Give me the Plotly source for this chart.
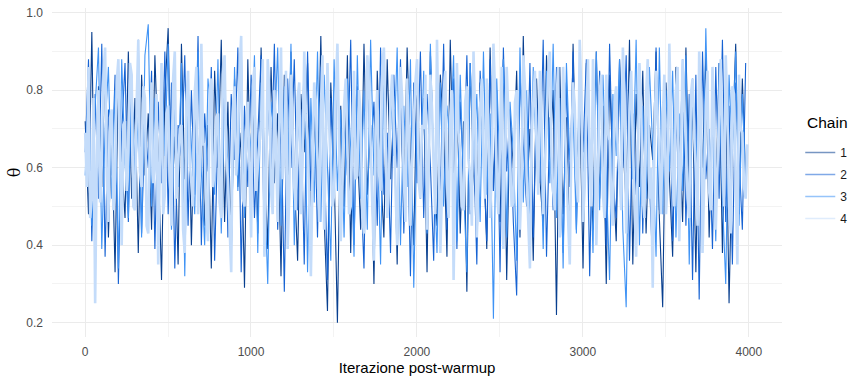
import plotly.graph_objects as go

iterations = list(range(1, 4001, 20))
iterations_c4 = list(range(1, 4001, 10))

chain1 = [
    0.72, 0.48, 0.95, 0.36, 0.81, 0.55, 0.88, 0.42, 0.70, 0.33, 0.86, 0.61, 0.47, 0.90, 0.52, 0.78, 0.38, 0.84, 0.58, 0.74,
    0.44, 0.89, 0.63, 0.31, 0.79, 0.96, 0.50, 0.68, 0.35, 0.92, 0.57, 0.82, 0.40, 0.76, 0.53, 0.87, 0.45, 0.71, 0.34, 0.85,
    0.60, 0.93, 0.46, 0.77, 0.37, 0.83, 0.55, 0.69, 0.29, 0.88, 0.51, 0.80, 0.43, 0.91, 0.62, 0.39, 0.86, 0.56, 0.74, 0.32,
    0.84, 0.49, 0.90, 0.58, 0.36, 0.79, 0.64, 0.87, 0.41, 0.73, 0.54, 0.94, 0.47, 0.23, 0.82, 0.59, 0.20, 0.76, 0.50, 0.89,
    0.38, 0.81, 0.66, 0.44, 0.92, 0.53, 0.71, 0.30, 0.85, 0.60, 0.42, 0.88, 0.57, 0.75, 0.35, 0.83, 0.48, 0.91, 0.63, 0.40,
    0.86, 0.52, 0.78, 0.33, 0.90, 0.61, 0.45, 0.84, 0.69, 0.37, 0.93, 0.55, 0.80, 0.43, 0.72, 0.28, 0.87, 0.58, 0.49, 0.82,
    0.65, 0.39, 0.91, 0.54, 0.77, 0.46, 0.88, 0.31, 0.74, 0.60, 0.85, 0.42, 0.94, 0.51, 0.70, 0.36, 0.83, 0.57, 0.45, 0.89,
    0.62, 0.80, 0.22, 0.86, 0.48, 0.73, 0.39, 0.92, 0.56, 0.78, 0.34, 0.87, 0.64, 0.44, 0.90, 0.52, 0.76, 0.30, 0.84, 0.59,
    0.41, 0.88, 0.67, 0.50, 0.93, 0.35, 0.79, 0.55, 0.85, 0.43, 0.71, 0.62, 0.90, 0.47, 0.24, 0.82, 0.58, 0.37, 0.86, 0.69,
    0.46, 0.91, 0.53, 0.77, 0.33, 0.84, 0.60, 0.89, 0.42, 0.75, 0.51, 0.87, 0.38, 0.80, 0.25, 0.66, 0.92, 0.48, 0.83, 0.57,
]

chain2 = [
    0.64, 0.88, 0.41, 0.79, 0.52, 0.92, 0.37, 0.75, 0.58, 0.84, 0.30, 0.69, 0.87, 0.46, 0.81, 0.55, 0.93, 0.43, 0.72, 0.60,
    0.85, 0.39, 0.77, 0.56, 0.90, 0.48, 0.82, 0.34, 0.71, 0.63, 0.89, 0.45, 0.80, 0.53, 0.94, 0.40, 0.74, 0.59, 0.86, 0.36,
    0.70, 0.51, 0.87, 0.42, 0.79, 0.62, 0.91, 0.33, 0.76, 0.55, 0.84, 0.47, 0.68, 0.89, 0.38, 0.81, 0.57, 0.92, 0.44, 0.73,
    0.28, 0.83, 0.60, 0.88, 0.49, 0.75, 0.35, 0.90, 0.54, 0.80, 0.42, 0.86, 0.65, 0.31, 0.78, 0.52, 0.89, 0.46, 0.72, 0.58,
    0.93, 0.40, 0.81, 0.57, 0.34, 0.87, 0.63, 0.77, 0.45, 0.91, 0.53, 0.69, 0.38, 0.84, 0.60, 0.88, 0.43, 0.74, 0.32, 0.82,
    0.56, 0.90, 0.47, 0.79, 0.61, 0.36, 0.86, 0.52, 0.92, 0.44, 0.71, 0.83, 0.39, 0.77, 0.58, 0.89, 0.48, 0.67, 0.35, 0.85,
    0.62, 0.41, 0.88, 0.54, 0.80, 0.33, 0.91, 0.59, 0.75, 0.46, 0.27, 0.84, 0.66, 0.50, 0.87, 0.42, 0.78, 0.56, 0.93, 0.37,
    0.73, 0.49, 0.86, 0.61, 0.38, 0.82, 0.55, 0.90, 0.44, 0.76, 0.64, 0.88, 0.32, 0.79, 0.51, 0.85, 0.68, 0.40, 0.92, 0.57,
    0.47, 0.83, 0.60, 0.89, 0.36, 0.74, 0.53, 0.87, 0.43, 0.80, 0.58, 0.34, 0.91, 0.49, 0.77, 0.62, 0.86, 0.41, 0.72, 0.55,
    0.88, 0.45, 0.79, 0.31, 0.84, 0.26, 0.90, 0.57, 0.70, 0.39, 0.86, 0.52, 0.93, 0.46, 0.76, 0.35, 0.82, 0.61, 0.44, 0.87,
]

chain3 = [
    0.58, 0.83, 0.45, 0.76, 0.91, 0.39, 0.70, 0.86, 0.52, 0.80, 0.34, 0.88, 0.61, 0.47, 0.84, 0.56, 0.73, 0.42, 0.89, 0.97,
    0.50, 0.78, 0.37, 0.85, 0.63, 0.92, 0.44, 0.75, 0.55, 0.87, 0.32, 0.81, 0.66, 0.48, 0.90, 0.59, 0.40, 0.83, 0.71, 0.53,
    0.88, 0.43, 0.79, 0.61, 0.35, 0.86, 0.54, 0.93, 0.47, 0.74, 0.64, 0.89, 0.38, 0.82, 0.57, 0.30, 0.77, 0.68, 0.91, 0.45,
    0.81, 0.56, 0.92, 0.40, 0.73, 0.62, 0.87, 0.33, 0.78, 0.51, 0.90, 0.46, 0.84, 0.60, 0.36, 0.88, 0.54, 0.75, 0.42, 0.83,
    0.65, 0.37, 0.89, 0.52, 0.80, 0.44, 0.93, 0.58, 0.71, 0.35, 0.86, 0.49, 0.79, 0.63, 0.91, 0.40, 0.76, 0.55, 0.88, 0.29,
    0.72, 0.57, 0.85, 0.43, 0.92, 0.61, 0.38, 0.82, 0.50, 0.76, 0.66, 0.89, 0.41, 0.84, 0.55, 0.33, 0.87, 0.62, 0.79, 0.46,
    0.90, 0.53, 0.74, 0.21, 0.83, 0.59, 0.88, 0.42, 0.77, 0.64, 0.36, 0.91, 0.51, 0.80, 0.45, 0.86, 0.60, 0.73, 0.39, 0.85,
    0.56, 0.92, 0.47, 0.78, 0.34, 0.87, 0.62, 0.75, 0.43, 0.89, 0.55, 0.81, 0.67, 0.38, 0.90, 0.49, 0.84, 0.58, 0.31, 0.79,
    0.63, 0.88, 0.44, 0.24, 0.82, 0.57, 0.93, 0.40, 0.76, 0.52, 0.86, 0.65, 0.37, 0.91, 0.48, 0.80, 0.59, 0.85, 0.42, 0.74,
    0.54, 0.89, 0.35, 0.83, 0.61, 0.77, 0.46, 0.96, 0.58, 0.72, 0.41, 0.87, 0.52, 0.30, 0.84, 0.63, 0.90, 0.45, 0.79, 0.56,
]

chain4 = [
    0.69, 0.55, 0.86, 0.47, 0.52, 0.78, 0.25, 0.63, 0.80, 0.51, 0.61, 0.84, 0.91, 0.58, 0.46, 0.73, 0.75, 0.49, 0.57, 0.82,
    0.88, 0.60, 0.40, 0.71, 0.72, 0.54, 0.64, 0.87, 0.84, 0.50, 0.49, 0.76, 0.93, 0.59, 0.55, 0.81, 0.78, 0.45, 0.43, 0.68,
    0.82, 0.56, 0.60, 0.79, 0.35, 0.62, 0.87, 0.48, 0.53, 0.74, 0.76, 0.58, 0.45, 0.83, 0.90, 0.52, 0.62, 0.70, 0.71, 0.44,
    0.38, 0.77, 0.85, 0.61, 0.56, 0.50, 0.79, 0.86, 0.48, 0.57, 0.92, 0.66, 0.66, 0.47, 0.41, 0.80, 0.83, 0.55, 0.59, 0.73,
    0.74, 0.51, 0.47, 0.84, 0.89, 0.63, 0.57, 0.46, 0.33, 0.75, 0.81, 0.58, 0.64, 0.85, 0.94, 0.52, 0.50, 0.69, 0.77, 0.60,
    0.42, 0.81, 0.86, 0.54, 0.60, 0.67, 0.72, 0.88, 0.37, 0.56, 0.88, 0.79, 0.54, 0.48, 0.80, 0.65, 0.46, 0.72, 0.91, 0.57,
    0.63, 0.85, 0.39, 0.53, 0.84, 0.70, 0.55, 0.49, 0.78, 0.82, 0.48, 0.61, 0.90, 0.74, 0.67, 0.52, 0.32, 0.58, 0.82, 0.77,
    0.59, 0.46, 0.75, 0.89, 0.44, 0.62, 0.87, 0.71, 0.61, 0.50, 0.53, 0.79, 0.92, 0.66, 0.41, 0.55, 0.76, 0.83, 0.65, 0.48,
    0.50, 0.72, 0.85, 0.57, 0.58, 0.80, 0.73, 0.47, 0.43, 0.64, 0.89, 0.81, 0.62, 0.51, 0.36, 0.70, 0.80, 0.59, 0.54, 0.86,
    0.91, 0.68, 0.47, 0.55, 0.77, 0.84, 0.68, 0.49, 0.40, 0.63, 0.86, 0.78, 0.57, 0.46, 0.83, 0.70, 0.45, 0.61, 0.74, 0.82,
    0.88, 0.56, 0.52, 0.71, 0.70, 0.84, 0.44, 0.59, 0.84, 0.75, 0.60, 0.48, 0.93, 0.66, 0.38, 0.54, 0.79, 0.85, 0.56, 0.47,
    0.73, 0.80, 0.31, 0.58, 0.87, 0.69, 0.64, 0.50, 0.49, 0.77, 0.81, 0.62, 0.58, 0.45, 0.90, 0.72, 0.42, 0.57, 0.76, 0.83,
    0.61, 0.52, 0.83, 0.70, 0.47, 0.59, 0.92, 0.79, 0.55, 0.48, 0.72, 0.86, 0.39, 0.62, 0.86, 0.74, 0.63, 0.50, 0.51, 0.77,
    0.80, 0.66, 0.44, 0.57, 0.89, 0.81, 0.58, 0.46, 0.34, 0.68, 0.78, 0.85, 0.66, 0.53, 0.85, 0.72, 0.48, 0.60, 0.71, 0.84,
    0.90, 0.63, 0.54, 0.49, 0.77, 0.86, 0.42, 0.58, 0.86, 0.71, 0.60, 0.47, 0.35, 0.66, 0.82, 0.76, 0.57, 0.51, 0.93, 0.79,
    0.46, 0.55, 0.74, 0.88, 0.62, 0.50, 0.88, 0.73, 0.40, 0.58, 0.79, 0.84, 0.53, 0.47, 0.84, 0.69, 0.67, 0.52, 0.45, 0.77,
    0.81, 0.64, 0.58, 0.49, 0.91, 0.78, 0.43, 0.56, 0.75, 0.85, 0.64, 0.51, 0.37, 0.62, 0.87, 0.76, 0.52, 0.47, 0.79, 0.88,
    0.52, 0.60, 0.29, 0.67, 0.85, 0.73, 0.61, 0.48, 0.72, 0.84, 0.48, 0.57, 0.92, 0.70, 0.56, 0.50, 0.80, 0.86, 0.41, 0.62,
    0.88, 0.75, 0.66, 0.52, 0.47, 0.79, 0.83, 0.68, 0.59, 0.45, 0.90, 0.77, 0.38, 0.56, 0.76, 0.85, 0.54, 0.49, 0.86, 0.71,
    0.44, 0.60, 0.73, 0.88, 0.62, 0.50, 0.89, 0.74, 0.50, 0.43, 0.81, 0.79, 0.57, 0.35, 0.84, 0.70, 0.69, 0.55, 0.52, 0.66,
]

chain_names = ["1", "2", "3", "4"]
chain_colors = ["#083f8f", "#1763d3", "#3f93f5", "#c4dcfa"]
chain_widths = [1.1, 1.1, 1.1, 2.6]

x_ticks = [0, 1000, 2000, 3000, 4000]
y_ticks = [0.2, 0.4, 0.6, 0.8, 1.0]

series = [(iterations, chain1), (iterations, chain2), (iterations, chain3), (iterations_c4, chain4)]

fig = go.Figure()
for name, (xs, vals), col, w in zip(chain_names, series, chain_colors, chain_widths):
    fig.add_trace(go.Scatter(
        x=xs, y=vals, mode="lines",
        line=dict(color=col, width=w),
        showlegend=False, hoverinfo="skip",
    ))
# legend entries (semi-transparent keys as in the reference)
for name, col in zip(chain_names, chain_colors):
    fig.add_trace(go.Scatter(
        x=[None], y=[None], mode="lines", name=name,
        line=dict(color=col, width=1.5), opacity=0.55,
        legendgroup=name, showlegend=True,
    ))

grid_major = "#ebebeb"
grid_minor = "#f3f3f3"

fig.update_layout(
    width=864, height=384,
    margin=dict(l=52, r=82, t=8, b=47, autoexpand=False),
    paper_bgcolor="white", plot_bgcolor="white",
    font=dict(family="Liberation Sans, Arial, sans-serif", color="#4d4d4d", size=12),
    legend=dict(
        x=1.025, xanchor="left", y=0.605, yanchor="top",
        font=dict(size=12, color="#1a1a1a"),
        tracegroupgap=3,
        bgcolor="rgba(0,0,0,0)",
    ),
    annotations=[dict(
        text="Chain", xref="paper", yref="paper", x=1.031, y=0.653,
        xanchor="left", yanchor="middle", showarrow=False,
        font=dict(size=15.5, color="black"),
    )],
    xaxis=dict(
        range=[-199, 4200], tickvals=x_ticks, ticktext=[str(v) for v in x_ticks],
        showgrid=True, gridcolor=grid_major, gridwidth=1.1, zeroline=False,
        showline=False, ticks="", ticklabelstandoff=6, automargin=False,
        minor=dict(dtick=500, tick0=0, showgrid=True, gridcolor=grid_minor, gridwidth=0.6),
        title=dict(text="Iterazione post-warmup", font=dict(size=15, color="black"), standoff=3),
        tickfont=dict(size=12, color="#4d4d4d"),
    ),
    yaxis=dict(
        range=[0.163, 1.012], tickvals=y_ticks, ticktext=["0.2", "0.4", "0.6", "0.8", "1.0"],
        showgrid=True, gridcolor=grid_major, gridwidth=1.1, zeroline=False,
        showline=False, ticks="", ticklabelstandoff=8, automargin=False,
        minor=dict(dtick=0.1, tick0=0.1, showgrid=True, gridcolor=grid_minor, gridwidth=0.6),
        title=dict(text="θ", font=dict(size=16, color="black", family="DejaVu Serif, serif"), standoff=1),
        tickfont=dict(size=12, color="#4d4d4d"),
    ),
)

# remove the default page margin so the 864x384 figure fills the window exactly
fig.write_html(
    "out.html",
    config={"displayModeBar": False},
    post_script="document.body.style.margin='0';document.documentElement.style.overflow='hidden';",
)
